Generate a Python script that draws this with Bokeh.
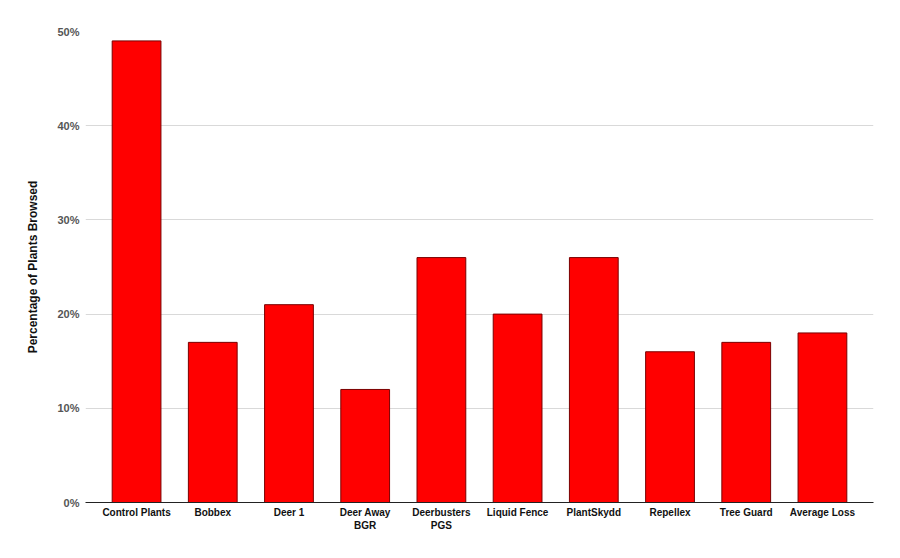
from bokeh.plotting import figure
from bokeh.models import FactorRange, FixedTicker, PrintfTickFormatter, ColumnDataSource
from bokeh.embed import file_html
from bokeh.resources import INLINE

categories = ["Control Plants", "Bobbex", "Deer 1", "Deer Away\nBGR", "Deerbusters\nPGS",
              "Liquid Fence", "PlantSkydd", "Repellex", "Tree Guard", "Average Loss"]
percent_browsed = [49, 17, 21, 12, 26, 20, 26, 16, 17, 18]
y_ticks = [0, 10, 20, 30, 40, 50]

source = ColumnDataSource(data=dict(cat=categories, val=percent_browsed))

p = figure(width=890, height=550, output_backend="svg", toolbar_location=None,
           x_range=FactorRange(*categories, range_padding=0.034),
           y_range=(0, 50),
           min_border_left=85, min_border_right=17, min_border_top=31, min_border_bottom=48)

p.vbar(x="cat", top="val", width=0.64, source=source,
       fill_color="#ff0000", line_color="#7a0000", line_width=1)

p.outline_line_color = None
p.background_fill_color = "white"
p.border_fill_color = "white"

p.xgrid.grid_line_color = None
p.ygrid.grid_line_color = "#d9d9d9"
p.ygrid.grid_line_width = 1

p.yaxis.ticker = FixedTicker(ticks=y_ticks)
p.yaxis.formatter = PrintfTickFormatter(format="%d%%")
p.yaxis.axis_line_color = None
p.yaxis.major_tick_line_color = None
p.yaxis.minor_tick_line_color = None
p.yaxis.major_label_text_font = "Liberation Sans"
p.yaxis.major_label_text_font_size = "11px"
p.yaxis.major_label_text_font_style = "bold"
p.yaxis.major_label_text_color = "#555555"
p.yaxis.major_label_standoff = 0
p.yaxis.axis_label = "Percentage of Plants Browsed"
p.yaxis.axis_label_text_font = "Liberation Sans"
p.yaxis.axis_label_text_font_size = "12px"
p.yaxis.axis_label_text_font_style = "bold"
p.yaxis.axis_label_text_color = "#111111"
p.yaxis.axis_label_standoff = 14

p.xaxis.axis_line_color = "#222222"
p.xaxis.axis_line_width = 1
p.xaxis.major_tick_line_color = None
p.xaxis.minor_tick_line_color = None
p.xaxis.major_label_text_font = "Liberation Sans"
p.xaxis.major_label_text_font_size = "10px"
p.xaxis.major_label_text_font_style = "bold"
p.xaxis.major_label_text_color = "#111111"
p.xaxis.major_label_standoff = -2

open("out.html", "w").write(file_html(p, INLINE))
